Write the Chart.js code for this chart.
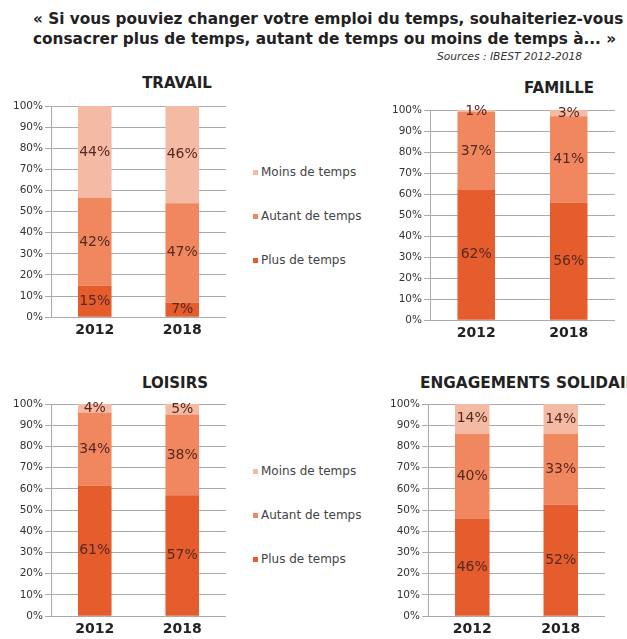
<!DOCTYPE html>
<html><head><meta charset="utf-8">
<script src="https://cdn.jsdelivr.net/npm/chart.js@4.4.1/dist/chart.umd.min.js"></script>
<style>
html,body{margin:0;padding:0;background:#fff;}
body{width:627px;height:639px;overflow:hidden;position:relative;font-family:"DejaVu Sans",sans-serif;}
#heading{position:absolute;left:33px;top:9px;font-weight:bold;font-size:15.3px;line-height:20px;color:#222;white-space:nowrap;}
#source{position:absolute;left:437px;top:50px;font-style:italic;font-size:10.7px;color:#333;white-space:nowrap;}
.ttl{position:absolute;font-weight:bold;font-size:15px;line-height:18px;color:#222;white-space:nowrap;}
.ctr{transform:translateX(-50%);}
canvas{position:absolute;}
.legend{position:absolute;left:253px;}
.legend .item{height:16px;line-height:16px;margin-bottom:28px;font-size:12px;color:#444;white-space:nowrap;display:flex;align-items:center;}
.legend .sw{display:inline-block;width:5px;height:5px;margin-right:3px;}
</style></head><body>
<div id="heading">« Si vous pouviez changer votre emploi du temps, souhaiteriez-vous<br>consacrer plus de temps, autant de temps ou moins de temps à... »</div>
<div id="source">Sources : IBEST 2012-2018</div>
<div class="ttl ctr" style="left:177px;top:74px;">TRAVAIL</div>
<div class="ttl ctr" style="left:559px;top:79px;">FAMILLE</div>
<div class="ttl ctr" style="left:175px;top:374px;">LOISIRS</div>
<div class="ttl" style="left:420px;top:374px;font-size:15.3px;">ENGAGEMENTS SOLIDAIRES</div>
<canvas id="c1" width="240" height="252" style="left:0;top:94px;"></canvas>
<canvas id="c2" width="247" height="253" style="left:380px;top:96px;"></canvas>
<canvas id="c3" width="240" height="253" style="left:0;top:392px;"></canvas>
<canvas id="c4" width="247" height="253" style="left:380px;top:392px;"></canvas>
<div class="legend" id="leg1" style="top:164px;"></div>
<div class="legend" id="leg3" style="top:463px;"></div>
<script>
// ---- data ----
const categories = ['2012', '2018'];
const seriesNames = ['Plus de temps', 'Autant de temps', 'Moins de temps'];
const travailPlus = [15, 7];
const travailAutant = [42, 47];
const travailMoins = [44, 46];
const famillePlus = [62, 56];
const familleAutant = [37, 41];
const familleMoins = [1, 3];
const loisirsPlus = [61, 57];
const loisirsAutant = [34, 38];
const loisirsMoins = [4, 5];
const engagementsPlus = [46, 52];
const engagementsAutant = [40, 33];
const engagementsMoins = [14, 14];
const yTickValues = [0, 10, 20, 30, 40, 50, 60, 70, 80, 90, 100];

const seriesColors = ['#E55D2C', '#F0875E', '#F5BAA3'];

Chart.defaults.font.family = '"DejaVu Sans", sans-serif';

const valueLabels = {
  id: 'valueLabels',
  afterDatasetsDraw(chart) {
    const ctx = chart.ctx;
    ctx.save();
    ctx.font = '14px "DejaVu Sans"';
    ctx.fillStyle = '#57281f';
    ctx.textAlign = 'center';
    ctx.textBaseline = 'middle';
    chart.data.datasets.forEach((ds, i) => {
      const meta = chart.getDatasetMeta(i);
      meta.data.forEach((bar, j) => {
        ctx.fillText(ds.rawValues[j] + '%', bar.x, (bar.y + bar.base) / 2);
      });
    });
    ctx.restore();
  }
};

function makeChart(id, plus, autant, moins, cfg) {
  const raw = [plus, autant, moins];
  const totals = categories.map((c, j) => plus[j] + autant[j] + moins[j]);
  const datasets = raw.map((vals, i) => ({
    label: seriesNames[i],
    rawValues: vals,
    data: vals.map((v, j) => v / totals[j] * 100),
    backgroundColor: seriesColors[i],
    borderWidth: 0,
    barPercentage: cfg.barPct,
    categoryPercentage: 1
  }));
  return new Chart(document.getElementById(id), {
    type: 'bar',
    data: { labels: categories, datasets },
    options: {
      responsive: false,
      animation: false,
      layout: { padding: cfg.padding },
      scales: {
        x: {
          stacked: true,
          grid: { display: false, drawTicks: false },
          border: { display: false },
          ticks: { color: '#222', padding: 5, font: { size: 14, weight: 'bold' } }
        },
        y: {
          stacked: true,
          min: 0, max: 100,
          afterBuildTicks: (scale) => { scale.ticks = yTickValues.map(v => ({ value: v })); },
          ticks: { color: '#333', padding: 2, font: { size: 10.5 }, callback: v => v + '%' },
          grid: { color: '#aaaaaa', tickLength: 6 },
          border: { display: true, color: '#aaaaaa' }
        }
      },
      plugins: {
        tooltip: { enabled: false },
        legend: { display: false }
      }
    },
    plugins: [valueLabels]
  });
}

// HTML legend built from the chart's own legend items (reversed: top series first)
function buildLegend(chart, containerId) {
  const items = Chart.defaults.plugins.legend.labels.generateLabels(chart).reverse();
  const box = document.getElementById(containerId);
  items.forEach(it => {
    const row = document.createElement('div');
    row.className = 'item';
    const sw = document.createElement('span');
    sw.className = 'sw';
    sw.style.background = it.fillStyle;
    row.appendChild(sw);
    row.appendChild(document.createTextNode(it.text));
    box.appendChild(row);
  });
}

const ch1 = makeChart('c1', travailPlus, travailAutant, travailMoins,
  { barPct: 0.384, padding: { left: 11, top: 12, right: 14, bottom: 2 } });
makeChart('c2', famillePlus, familleAutant, familleMoins,
  { barPct: 0.406, padding: { left: 10, top: 14, right: 12, bottom: 2 } });
const ch3 = makeChart('c3', loisirsPlus, loisirsAutant, loisirsMoins,
  { barPct: 0.384, padding: { left: 11, top: 12, right: 14, bottom: 2 } });
makeChart('c4', engagementsPlus, engagementsAutant, engagementsMoins,
  { barPct: 0.39, padding: { left: 8, top: 12, right: 22, bottom: 2 } });
buildLegend(ch1, 'leg1');
buildLegend(ch3, 'leg3');
</script>
</body></html>
